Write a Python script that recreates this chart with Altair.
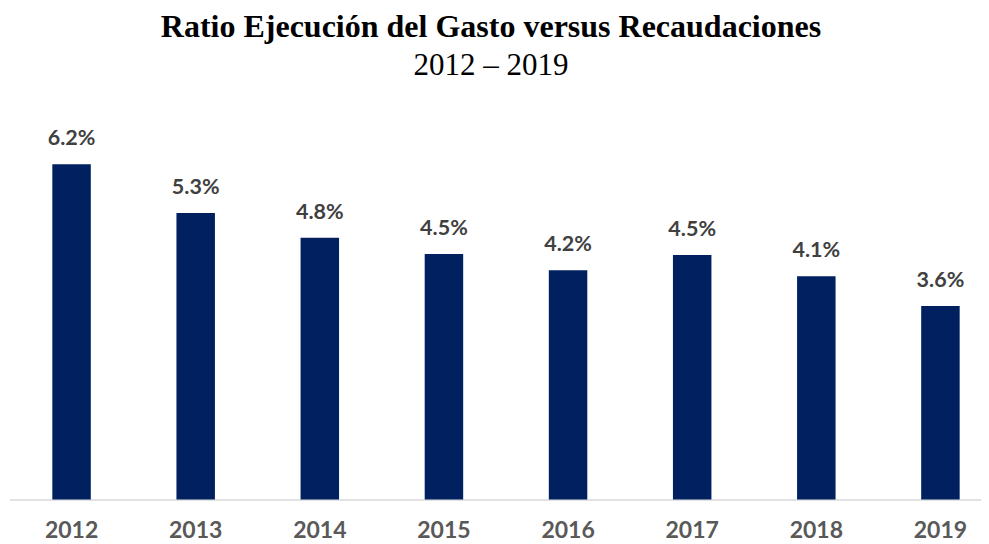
import altair as alt
import pandas as pd

years = ["2012", "2013", "2014", "2015", "2016", "2017", "2018", "2019"]
ratios = [6.20, 5.30, 4.84, 4.54, 4.24, 4.52, 4.13, 3.58]
title_text = "Ratio Ejecución del Gasto versus Recaudaciones"
subtitle_text = "2012 – 2019"

df = pd.DataFrame({"Año": years, "Ratio": ratios})
df["Etiqueta"] = [f"{v:.1f}%" for v in ratios]

W = 972
H = 378.5

x = alt.X(
    "Año:N",
    sort=None,
    scale=alt.Scale(range=[0.5, 993.5], paddingInner=0.69, paddingOuter=0.345),
    axis=alt.Axis(
        title=None,
        labelAngle=0,
        labelFont="Lato",
        labelFontWeight="bold",
        labelFontSize=23,
        labelColor="#595959",
        labelBaseline="alphabetic",
        labelPadding=38,
        ticks=False,
        grid=False,
        domain=True,
        domainColor="#D9D9D9",
        domainWidth=1.5,
    ),
)
y = alt.Y("Ratio:Q", scale=alt.Scale(domain=[0, 7]), axis=None)

base = alt.Chart(df)
bars = base.mark_bar(color="#002060").encode(x=x, y=y)
labels = base.mark_text(
    font="Lato", fontWeight="bold", fontSize=21.5, color="#404040",
    baseline="alphabetic", align="center", dy=-19,
).encode(x=x, y=y, text="Etiqueta:N")

t1 = alt.Chart(pd.DataFrame({"t": [title_text]})).mark_text(
    font="Liberation Serif", fontWeight="bold", fontSize=32, color="#000000",
    baseline="alphabetic", align="center",
).encode(x=alt.value(482), y=alt.value(-84.3), text="t:N")

t2 = alt.Chart(pd.DataFrame({"t": [subtitle_text]})).mark_text(
    font="Liberation Serif", fontSize=31, color="#000000",
    baseline="alphabetic", align="center",
).encode(x=alt.value(482), y=alt.value(-46), text="t:N")

chart = alt.layer(bars, labels, t1, t2).properties(
    width=W,
    height=H,
    padding={"left": 1, "top": 113, "right": 0, "bottom": 45},
    autosize=alt.AutoSizeParams(type="none"),
).configure_view(strokeWidth=0)

chart.save("out.html", embed_options={"renderer": "svg", "actions": False})
